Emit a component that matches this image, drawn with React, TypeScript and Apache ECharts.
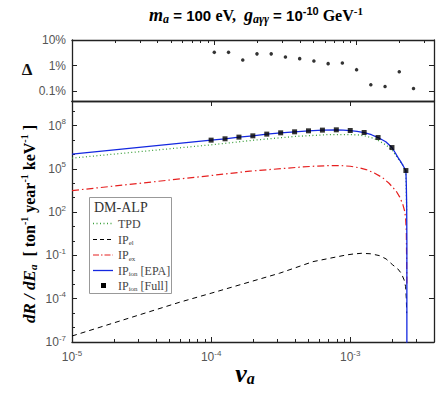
import React, { useEffect, useRef } from 'react';
import * as echarts from 'echarts';

// ---------- data ----------
const velocities = [1e-4, 1.259e-4, 1.585e-4, 1.995e-4, 2.512e-4, 3.162e-4, 3.981e-4, 5.012e-4, 6.31e-4, 7.943e-4, 1e-3, 1.259e-3, 1.585e-3, 1.995e-3, 2.512e-3];
const rateFull = [9.7e6, 1.2e7, 1.57e7, 1.93e7, 2.54e7, 3.12e7, 3.66e7, 4.29e7, 4.8e7, 5.04e7, 4.5e7, 3.27e7, 1.47e7, 2.98e6, 7.6e4];
const deltaVals = [0.033, 0.033, 0.0167, 0.0288, 0.0288, 0.0219, 0.0188, 0.0153, 0.012, 0.0128, 0.007, 0.0018, 0.00154, 0.0058, 0.0013];

const epaV = [1e-5, 1e-4, 1.259e-4, 1.585e-4, 1.995e-4, 2.512e-4, 3.162e-4, 3.981e-4, 5.012e-4, 6.31e-4, 7.943e-4, 8.9e-4, 1e-3, 1.12e-3, 1.259e-3, 1.42e-3, 1.585e-3, 1.8e-3, 1.995e-3, 2.1e-3, 2.2e-3, 2.3e-3, 2.39e-3, 2.46e-3, 2.512e-3, 2.53e-3, 2.545e-3, 2.553e-3, 2.553e-3];
const epaR = [1.04e6, 9.7e6, 1.2e7, 1.57e7, 1.93e7, 2.54e7, 3.12e7, 3.66e7, 4.29e7, 4.8e7, 5.04e7, 4.85e7, 4.5e7, 3.95e7, 3.27e7, 2.3e7, 1.47e7, 7.5e6, 2.98e6, 1.35e6, 6.2e5, 3.3e5, 1.75e5, 1.05e5, 7.6e4, 8e3, 3e2, 1e0, 1e-9];

const tpdV = [1e-5, 1e-4, 2e-4, 4e-4, 7e-4, 1e-3, 1.15e-3, 1.3e-3, 1.45e-3, 1.6e-3, 1.8e-3, 2e-3, 2.2e-3, 2.4e-3, 2.51e-3, 2.545e-3];
const tpdR = [5.5e5, 4.6e6, 9.5e6, 1.75e7, 2.35e7, 2.38e7, 2.2e7, 1.84e7, 1.35e7, 8.8e6, 4.6e6, 2.0e6, 5.2e5, 1.7e5, 6e4, 1e2];

const exV = [1e-5, 8.3e-5, 1.9e-4, 4.33e-4, 5.7e-4, 7.5e-4, 8.7e-4, 1e-3, 1.15e-3, 1.3e-3, 1.5e-3, 1.71e-3, 1.9e-3, 2.14e-3, 2.27e-3, 2.39e-3, 2.46e-3, 2.5e-3, 2.53e-3, 2.553e-3];
const exR = [3.1e3, 2.8e4, 6.9e4, 1.3e5, 1.55e5, 1.7e5, 1.65e5, 1.5e5, 1.2e5, 8.9e4, 5e4, 2.4e4, 1e4, 2.8e3, 1.1e3, 330, 120, 40, 5, 1e-3];

const elV = [1e-5, 5.94e-5, 1e-4, 3.1e-4, 5.4e-4, 7.1e-4, 9.35e-4, 1.05e-3, 1.2e-3, 1.4e-3, 1.62e-3, 1.81e-3, 2.02e-3, 2.2e-3, 2.33e-3, 2.44e-3, 2.5e-3, 2.53e-3, 2.545e-3];
const elR = [2.6e-7, 5.7e-5, 2.4e-4, 5.8e-3, 3.7e-2, 6.3e-2, 0.107, 0.125, 0.14, 0.13, 0.097, 0.057, 0.022, 0.0115, 5.7e-3, 2e-3, 6.8e-4, 1e-4, 1e-5];

const xMajorTicks = [1e-5, 1e-4, 1e-3];
const yTopTicks = [1e-3, 1e-2, 1e-1];
const yTopLabels = ['0.1%', '1%', '10%'];
const yBotMajor = [1e-7, 1e-4, 1e-1, 1e2, 1e5, 1e8];
const yBotMinor = [1e-7, 1e-6, 1e-5, 1e-4, 1e-3, 1e-2, 1e-1, 1, 10, 1e2, 1e3, 1e4, 1e5, 1e6, 1e7, 1e8, 1e9];

const X_MIN = 1e-5;
const X_MAX_TOP = 3.5e-3;
const X_MAX_BOT = 4e-3;
const Y_TOP_MIN = 4.2e-4;
const Y_TOP_MAX = 0.1;
const Y_BOT_MIN = 1e-7;
const Y_BOT_MAX = 5e9;

function minorTicks(max: number) {
  const out: number[] = [];
  for (const d of xMajorTicks) {
    for (let m = 2; m <= 9; m++) {
      const v = m * d;
      if (v < max) out.push(v);
    }
  }
  return out;
}

const zip = (a: number[], b: number[]) => a.map((v, i) => [v, b[i]]);

const SANS = 'Liberation Sans, Arial, sans-serif';
const SERIF = 'Liberation Serif, Times New Roman, serif';
const AX = '#222';
const LBL = '#555';

const frame = { show: true, lineStyle: { color: AX, width: 1.3 } };
const noLine = { show: false };
const tick = (vals: number[], len: number) => ({
  show: true,
  inside: true,
  length: len,
  customValues: vals,
  lineStyle: { color: AX, width: 1 },
});
const noTick = { show: false };
const noLabel = { show: false };
const noSplit = { show: false };

const powRich = {
  b: { fontSize: 12, fontFamily: SANS, fontWeight: 'normal', color: LBL },
  s: { fontSize: 8, fontFamily: SANS, fontWeight: 'normal', color: LBL, padding: [0, 0, 8, 0] },
};
const powFmt = (v: number) => '{b|10}{s|' + Math.round(Math.log10(v)) + '}';
const pctFmt = (v: number) => {
  const i = yTopTicks.findIndex((t) => Math.abs(Math.log10(t) - Math.log10(v)) < 0.01);
  return i >= 0 ? yTopLabels[i] : '';
};

export default function App() {
  const ref = useRef<HTMLDivElement>(null);
  useEffect(() => {
    document.body.style.margin = '0';
    if (!ref.current) return;
    const chart = echarts.init(ref.current, null, { renderer: 'svg' });

    const gridTop = { left: 72, top: 40, width: 362, height: 61 };
    const gridBot = { left: 72, top: 101, width: 362, height: 241 };

    const sub = { fontFamily: SERIF, fontSize: 7, fill: '#444', padding: [7, 0, 0, 0] };
    const base = { fontFamily: SERIF, fontSize: 12, fill: '#444' };

    const option: any = {
      animation: false,
      backgroundColor: '#fff',
      grid: [gridTop, gridBot, gridTop, gridBot],
      xAxis: [
        { type: 'log', gridIndex: 0, position: 'bottom', min: X_MIN, max: X_MAX_TOP, axisLine: frame, axisTick: noTick, axisLabel: noLabel, splitLine: noSplit },
        { type: 'log', gridIndex: 0, position: 'top', min: X_MIN, max: X_MAX_TOP, axisLine: frame, axisTick: tick(xMajorTicks, 5), axisLabel: noLabel, splitLine: noSplit },
        {
          type: 'log', gridIndex: 1, position: 'bottom', min: X_MIN, max: X_MAX_BOT, axisLine: frame, axisTick: tick(xMajorTicks, 5),
          axisLabel: { show: true, customValues: xMajorTicks, formatter: powFmt, rich: powRich, margin: 7 },
          splitLine: noSplit,
        },
        { type: 'log', gridIndex: 1, position: 'top', min: X_MIN, max: X_MAX_BOT, axisLine: frame, axisTick: tick(xMajorTicks, 5), axisLabel: noLabel, splitLine: noSplit },
        { type: 'log', gridIndex: 2, position: 'top', min: X_MIN, max: X_MAX_TOP, axisLine: noLine, axisTick: tick(minorTicks(X_MAX_TOP), 3), axisLabel: noLabel, splitLine: noSplit },
        { type: 'log', gridIndex: 3, position: 'bottom', min: X_MIN, max: X_MAX_BOT, axisLine: noLine, axisTick: tick(minorTicks(X_MAX_BOT), 3), axisLabel: noLabel, splitLine: noSplit },
      ],
      yAxis: [
        {
          type: 'log', gridIndex: 0, position: 'left', min: Y_TOP_MIN, max: Y_TOP_MAX, axisLine: frame, axisTick: tick(yTopTicks, 5),
          axisLabel: { show: true, customValues: yTopTicks, formatter: pctFmt, fontSize: 12, fontWeight: 'normal', fontFamily: SANS, color: LBL, margin: 6 },
          splitLine: noSplit,
        },
        { type: 'log', gridIndex: 0, position: 'right', min: Y_TOP_MIN, max: Y_TOP_MAX, axisLine: frame, axisTick: tick(yTopTicks, 5), axisLabel: noLabel, splitLine: noSplit },
        {
          type: 'log', gridIndex: 1, position: 'left', min: Y_BOT_MIN, max: Y_BOT_MAX, axisLine: frame, axisTick: tick(yBotMajor, 5),
          axisLabel: { show: true, customValues: yBotMajor, formatter: powFmt, rich: powRich, margin: 6 },
          splitLine: noSplit,
        },
        { type: 'log', gridIndex: 1, position: 'right', min: Y_BOT_MIN, max: Y_BOT_MAX, axisLine: frame, axisTick: tick(yBotMajor, 5), axisLabel: noLabel, splitLine: noSplit },
        { type: 'log', gridIndex: 2, position: 'left', min: Y_TOP_MIN, max: Y_TOP_MAX, show: false },
        { type: 'log', gridIndex: 3, position: 'left', min: Y_BOT_MIN, max: Y_BOT_MAX, axisLine: noLine, axisTick: tick(yBotMinor, 3), axisLabel: noLabel, splitLine: noSplit },
      ],
      series: [
        {
          name: 'Delta', type: 'scatter', xAxisIndex: 0, yAxisIndex: 0, symbol: 'circle', symbolSize: 3.5,
          itemStyle: { color: '#000' }, data: zip(velocities, deltaVals),
        },
        {
          name: 'TPD', type: 'line', xAxisIndex: 2, yAxisIndex: 2, showSymbol: false,
          lineStyle: { color: '#3a9f3a', width: 1.3, type: [1, 2.5] }, data: zip(tpdV, tpdR),
        },
        {
          name: 'IPel', type: 'line', xAxisIndex: 2, yAxisIndex: 2, showSymbol: false,
          lineStyle: { color: '#000', width: 1, type: [5, 4] }, data: zip(elV, elR),
        },
        {
          name: 'IPex', type: 'line', xAxisIndex: 2, yAxisIndex: 2, showSymbol: false,
          lineStyle: { color: '#e62020', width: 1.2, type: [7, 3, 1.5, 3] }, data: zip(exV, exR),
        },
        {
          name: 'EPA', type: 'line', xAxisIndex: 2, yAxisIndex: 2, showSymbol: false,
          lineStyle: { color: '#1428e0', width: 1.3 }, data: zip(epaV, epaR),
        },
        {
          name: 'Full', type: 'scatter', xAxisIndex: 2, yAxisIndex: 2, symbol: 'rect', symbolSize: 5,
          itemStyle: { color: '#000' }, data: zip(velocities, rateFull), z: 5,
        },
      ],
      graphic: [
        {
          type: 'text', x: 256, y: 15, z: 100,
          style: {
            text: '{mi|m}{ms|a}{sb| = 100 }{sr|eV,  }{mi|g}{ms|aγγ}{sb| = 10}{sp|-10}{sr| GeV}{sq|-1}',
            align: 'center', verticalAlign: 'middle',
            rich: {
              mi: { fontFamily: SERIF, fontStyle: 'italic', fontWeight: 'bold', fontSize: 18, fill: '#000' },
              ms: { fontFamily: SERIF, fontStyle: 'italic', fontWeight: 'bold', fontSize: 12, fill: '#000', padding: [8, 0, 0, 0] },
              sb: { fontFamily: SANS, fontWeight: 'bold', fontSize: 15, fill: '#000' },
              sr: { fontFamily: SERIF, fontWeight: 'bold', fontSize: 16, fill: '#000' },
              sp: { fontFamily: SANS, fontWeight: 'bold', fontSize: 11, fill: '#000', padding: [0, 0, 9, 0] },
              sq: { fontFamily: SERIF, fontWeight: 'bold', fontSize: 11, fill: '#000', padding: [0, 0, 9, 0] },
            },
          },
        },
        {
          type: 'text', x: 27, y: 69, z: 100,
          style: { text: 'Δ', fontFamily: SERIF, fontWeight: 'bold', fontSize: 17, fill: '#111', align: 'center', verticalAlign: 'middle' },
        },
        {
          type: 'text', x: 29, y: 224, rotation: Math.PI / 2, z: 100,
          style: {
            text: '{i|dR / dE}{is|a}{b|  [ ton}{s|-1}{b| year}{s|-1}{b| keV}{s|-1}{b| ]}',
            align: 'center', verticalAlign: 'middle',
            rich: {
              i: { fontFamily: SERIF, fontStyle: 'italic', fontWeight: 'bold', fontSize: 17, fill: '#000' },
              is: { fontFamily: SERIF, fontStyle: 'italic', fontWeight: 'bold', fontSize: 11, fill: '#000', padding: [8, 0, 0, 0] },
              b: { fontFamily: SERIF, fontWeight: 'bold', fontSize: 16, fill: '#000' },
              s: { fontFamily: SERIF, fontWeight: 'bold', fontSize: 10, fill: '#000', padding: [0, 0, 9, 0] },
            },
          },
        },
        {
          type: 'text', x: 245, y: 373, z: 100,
          style: {
            text: '{v|v}{a|a}',
            align: 'center', verticalAlign: 'middle',
            rich: {
              v: { fontFamily: SERIF, fontStyle: 'italic', fontWeight: 'bold', fontSize: 26, fill: '#000' },
              a: { fontFamily: SERIF, fontStyle: 'italic', fontWeight: 'bold', fontSize: 16, fill: '#000', padding: [10, 0, 0, 0] },
            },
          },
        },
        // legend
        {
          type: 'group', z: 100,
          children: [
            { type: 'rect', shape: { x: 89.5, y: 197.5, width: 82, height: 96 }, style: { fill: '#fff', stroke: '#999', lineWidth: 1 } },
            { type: 'text', x: 94, y: 207, style: { text: 'DM-ALP', fontFamily: SERIF, fontSize: 14, fill: '#333', verticalAlign: 'middle' } },
            { type: 'line', shape: { x1: 93, y1: 223.5, x2: 113, y2: 223.5 }, style: { stroke: '#3a9f3a', lineWidth: 1.3, lineDash: [1, 2.5] } },
            { type: 'text', x: 118, y: 223.5, style: { text: 'TPD', fontFamily: SERIF, fontSize: 12, fill: '#444', verticalAlign: 'middle' } },
            { type: 'line', shape: { x1: 93, y1: 239.5, x2: 113, y2: 239.5 }, style: { stroke: '#000', lineWidth: 1, lineDash: [4, 3] } },
            { type: 'text', x: 118, y: 239.5, style: { text: '{b|IP}{s|el}', verticalAlign: 'middle', rich: { b: base, s: sub } } },
            { type: 'line', shape: { x1: 93, y1: 255, x2: 113, y2: 255 }, style: { stroke: '#e62020', lineWidth: 1.2, lineDash: [6, 2, 1.5, 2] } },
            { type: 'text', x: 118, y: 255, style: { text: '{b|IP}{s|ex}', verticalAlign: 'middle', rich: { b: base, s: sub } } },
            { type: 'line', shape: { x1: 93, y1: 270.5, x2: 113, y2: 270.5 }, style: { stroke: '#1428e0', lineWidth: 1.3 } },
            { type: 'text', x: 118, y: 270.5, style: { text: '{b|IP}{s|ion}{b| [EPA]}', verticalAlign: 'middle', rich: { b: base, s: sub } } },
            { type: 'rect', shape: { x: 101, y: 283, width: 5, height: 5 }, style: { fill: '#000' } },
            { type: 'text', x: 118, y: 285.5, style: { text: '{b|IP}{s|ion}{b| [Full]}', verticalAlign: 'middle', rich: { b: base, s: sub } } },
          ],
        },
      ],
    };
    chart.setOption(option);
    return () => chart.dispose();
  }, []);
  return <div ref={ref} style={{ width: 447, height: 394 }} />;
}
